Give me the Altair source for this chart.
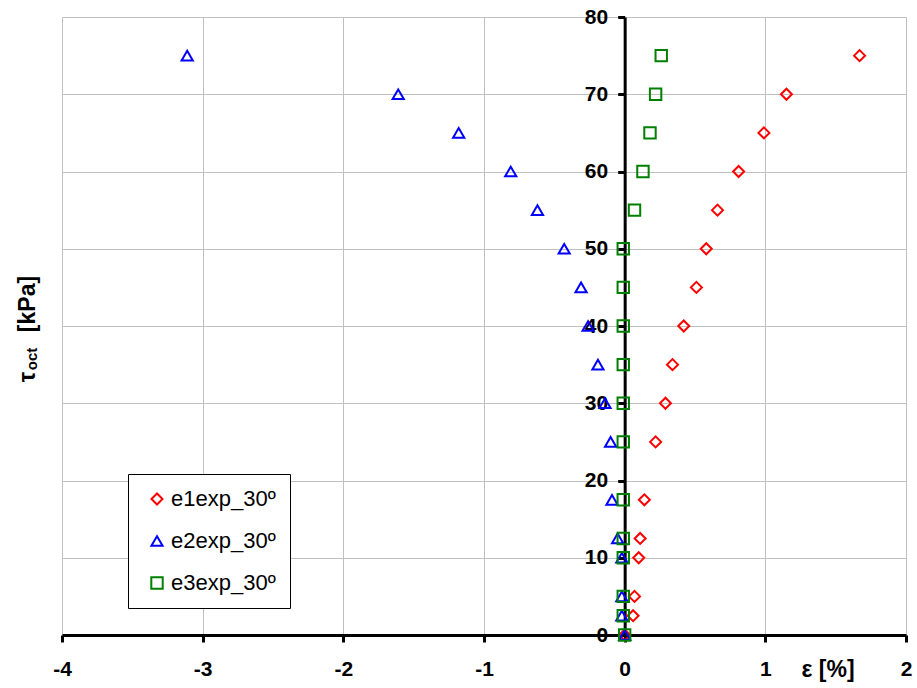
import altair as alt
import pandas as pd

# Octahedral shear stress levels [kPa]
tau_levels = [0, 2.5, 5, 10, 12.5, 17.5, 25, 30, 35, 40, 45, 50, 55, 60, 65, 70, 75]

# Measured strains [%] for each stress level
e1_strain = [0.00, 0.06, 0.07, 0.10, 0.11, 0.14, 0.22, 0.29, 0.34, 0.42, 0.51,
             0.58, 0.66, 0.81, 0.99, 1.15, 1.67]
e2_strain = [0.00, -0.02, -0.02, -0.02, -0.05, -0.09, -0.10, -0.14, -0.19, -0.26,
             -0.31, -0.43, -0.62, -0.81, -1.18, -1.61, -3.11]
e3_strain = [0.00, -0.01, -0.01, -0.01, -0.01, -0.01, -0.01, -0.01, -0.01, -0.01,
             -0.01, -0.01, 0.07, 0.13, 0.18, 0.22, 0.26]

series_names = ["e1exp_30º", "e2exp_30º", "e3exp_30º"]
series_colors = ["#ff0000", "#0000ff", "#008000"]
series_shapes = ["diamond", "triangle-up", "square"]

x_ticks = [-4, -3, -2, -1, 0, 1, 2]
y_ticks = [0, 10, 20, 30, 40, 50, 60, 70, 80]

rows = []
for order, (name, strains) in enumerate(zip(series_names, [e1_strain, e2_strain, e3_strain])):
    for tau, eps in zip(tau_levels, strains):
        rows.append({"series": name, "strain": eps, "tau": tau, "k": order})
df = pd.DataFrame(rows)

FONT = "Liberation Sans"
W, H = 844, 618
X_DOMAIN = [-4, 2]
zero_px = W * (0 - X_DOMAIN[0]) / (X_DOMAIN[1] - X_DOMAIN[0])

legend_cfg = alt.Legend(
    title=None,
    orient="none",
    legendX=66,
    legendY=457,
    strokeColor="black",
    fillColor="white",
    padding=14,
    rowPadding=20,
    symbolSize=121,
    symbolStrokeWidth=2,
    symbolOffset=4,
    labelOffset=3,
    labelFont=FONT,
    labelFontSize=22,
    labelColor="black",
)

tick_label_style = dict(
    labelFont=FONT,
    labelFontSize=21,
    labelFontWeight="bold",
    labelColor="black",
    labelFlush=False,
    labelOverlap=False,
)

points = alt.Chart(df).mark_point(filled=False, strokeWidth=2, opacity=1).encode(
    x=alt.X(
        "strain:Q",
        scale=alt.Scale(domain=X_DOMAIN, nice=False, zero=False),
        axis=alt.Axis(
            values=x_ticks,
            labelExpr="'' + datum.value",
            title=None,
            grid=True,
            gridColor="#c0c0c0",
            gridWidth=1,
            domainColor="black",
            domainWidth=3,
            tickColor="black",
            tickWidth=3,
            tickSize=7,
            labelPadding=16,
            **tick_label_style,
        ),
    ),
    y=alt.Y(
        "tau:Q",
        scale=alt.Scale(domain=[0, 80], nice=False),
        axis=alt.Axis(
            values=y_ticks,
            title=None,
            offset=-zero_px,
            grid=True,
            gridColor="#c0c0c0",
            gridWidth=1,
            domainColor="black",
            domainWidth=3,
            tickColor="black",
            tickWidth=3,
            tickSize=7,
            labelPadding=10,
            **tick_label_style,
        ),
    ),
    color=alt.Color("series:N", scale=alt.Scale(domain=series_names, range=series_colors),
                    legend=legend_cfg),
    shape=alt.Shape("series:N", scale=alt.Scale(domain=series_names, range=series_shapes),
                    legend=legend_cfg),
    size=alt.Size("series:N", scale=alt.Scale(domain=series_names, range=[121, 130, 90]),
                  legend=None),
    order=alt.Order("k:Q"),
)

# Axis titles
x_title = alt.Chart(pd.DataFrame({"t": ["ε [%]"]})).mark_text(
    font=FONT, fontSize=23, fontWeight="bold", align="center", baseline="alphabetic", color="black"
).encode(text="t:N", x=alt.value(766), y=alt.value(660))

y_tau = alt.Chart(pd.DataFrame({"t": ["τ"]})).mark_text(
    font=FONT, fontSize=23, fontWeight="bold", angle=270, align="center",
    baseline="alphabetic", color="black"
).encode(text="t:N", x=alt.value(-27), y=alt.value(360))

y_sub = alt.Chart(pd.DataFrame({"t": ["oct"]})).mark_text(
    font=FONT, fontSize=15, fontWeight="bold", angle=270, align="center",
    baseline="alphabetic", color="black"
).encode(text="t:N", x=alt.value(-25), y=alt.value(342))

y_unit = alt.Chart(pd.DataFrame({"t": ["[kPa]"]})).mark_text(
    font=FONT, fontSize=23, fontWeight="bold", angle=270, align="center",
    baseline="alphabetic", color="black"
).encode(text="t:N", x=alt.value(-27), y=alt.value(287))

chart = alt.layer(points, x_title, y_tau, y_sub, y_unit).properties(
    width=W,
    height=H,
    autosize=alt.AutoSizeParams(type="none"),
    padding={"left": 62, "top": 17, "right": 11, "bottom": 53},
    background="white",
).configure_view(stroke=None)

chart.save("out.html", embed_options={"renderer": "svg", "actions": False})
